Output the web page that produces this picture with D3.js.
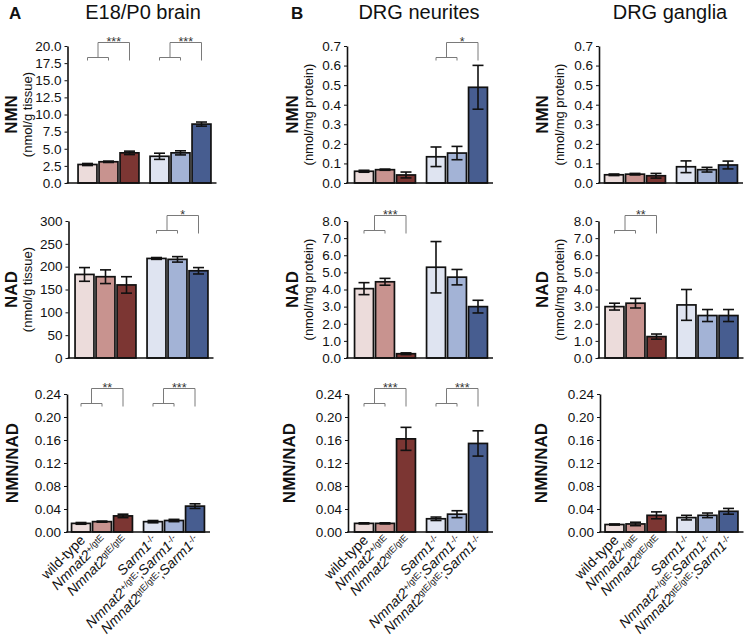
<!DOCTYPE html>
<html>
<head>
<meta charset="utf-8">
<script src="https://cdn.jsdelivr.net/npm/d3@7"></script>
<style>
  html, body { margin: 0; padding: 0; background: #fff; }
  svg { display: block; font-family: "Liberation Sans", Arial, sans-serif; }
</style>
</head>
<body>
<svg id="chart" width="745" height="639"></svg>
<script>
// ---------- DATA ----------
const categories = ["wt", "het", "hom", "sarm", "hetSarm", "homSarm"];
const groups = ["control", "sarm1KO"];
const categoryLabels = [
  [{t: "wild-type"}],
  [{t: "Nmnat2", i: true}, {t: "+/gtE", sup: true}],
  [{t: "Nmnat2", i: true}, {t: "gtE/gtE", sup: true}],
  [{t: "Sarm1", i: true}, {t: "-/-", sup: true}],
  [{t: "Nmnat2", i: true}, {t: "+/gtE", sup: true}, {t: ";"}, {t: "Sarm1", i: true}, {t: "-/-", sup: true}],
  [{t: "Nmnat2", i: true}, {t: "gtE/gtE", sup: true}, {t: ";"}, {t: "Sarm1", i: true}, {t: "-/-", sup: true}]
];
const barColors = ["#ecdcdb", "#c8938f", "#7c3633", "#dfe4f1", "#a3b3d6", "#475d90"];

const columnTitles = ["E18/P0 brain", "DRG neurites", "DRG ganglia"];
const panelLetters = ["A", "B", ""];
const rowLabels = ["NMN", "NAD", "NMN/NAD"];
const unitLabels = [
  ["(nmol/g tissue)", "(nmol/mg protein)", "(nmol/mg protein)"],
  ["(nmol/g tissue)", "(nmol/mg protein)", "(nmol/mg protein)"],
  ["", "", ""]
];

// E18/P0 brain
const brainNMN      = [2.7, 3.1, 4.4, 3.9, 4.4, 8.6];
const brainNMNErr   = [0.15, 0.1, 0.25, 0.45, 0.3, 0.3];
const brainNAD      = [183, 178, 160, 218, 216, 191];
const brainNADErr   = [15, 15, 18, 2, 6, 7];
const brainRatio    = [0.015, 0.018, 0.028, 0.018, 0.020, 0.045];
const brainRatioErr = [0.0015, 0.001, 0.003, 0.002, 0.002, 0.004];
// DRG neurites
const neuritesNMN      = [0.060, 0.068, 0.041, 0.134, 0.153, 0.489];
const neuritesNMNErr   = [0.005, 0.003, 0.015, 0.050, 0.034, 0.112];
const neuritesNAD      = [4.05, 4.45, 0.25, 5.3, 4.72, 3.0];
const neuritesNADErr   = [0.35, 0.2, 0.05, 1.5, 0.45, 0.37];
const neuritesRatio    = [0.015, 0.015, 0.162, 0.023, 0.031, 0.154];
const neuritesRatioErr = [0.001, 0.001, 0.020, 0.003, 0.006, 0.022];
// DRG ganglia
const gangliaNMN      = [0.042, 0.045, 0.037, 0.083, 0.068, 0.092];
const gangliaNMNErr   = [0.004, 0.004, 0.012, 0.030, 0.012, 0.020];
const gangliaNAD      = [3.0, 3.2, 1.25, 3.1, 2.48, 2.48];
const gangliaNADErr   = [0.2, 0.28, 0.15, 0.9, 0.35, 0.35];
const gangliaRatio    = [0.013, 0.014, 0.029, 0.025, 0.029, 0.036];
const gangliaRatioErr = [0.001, 0.003, 0.006, 0.004, 0.004, 0.005];

// tick labels
const ticksBrainNMN = [0, 2.5, 5, 7.5, 10, 12.5, 15, 17.5, 20];
const ticksBrainNAD = [0, 50, 100, 150, 200, 250, 300];
const ticksRatio    = [0, 0.04, 0.08, 0.12, 0.16, 0.20, 0.24];
const ticksDrgNMN   = [0, 0.1, 0.2, 0.3, 0.4, 0.5, 0.6, 0.7];
const ticksDrgNAD   = [0, 1, 2, 3, 4, 5, 6, 7, 8];

// significance: first two bars of a group vs the third bar
const significance = [
  {col: 0, row: 0, group: 0, label: "***"}, {col: 0, row: 0, group: 1, label: "***"},
  {col: 0, row: 1, group: 1, label: "*"},
  {col: 0, row: 2, group: 0, label: "**"},  {col: 0, row: 2, group: 1, label: "***"},
  {col: 1, row: 0, group: 1, label: "*"},
  {col: 1, row: 1, group: 0, label: "***"},
  {col: 1, row: 2, group: 0, label: "***"}, {col: 1, row: 2, group: 1, label: "***"},
  {col: 2, row: 1, group: 0, label: "**"}
];

const panels = [
  [ {v: brainNMN, e: brainNMNErr, t: ticksBrainNMN, f: ".1f"},
    {v: neuritesNMN, e: neuritesNMNErr, t: ticksDrgNMN, f: ".1f"},
    {v: gangliaNMN, e: gangliaNMNErr, t: ticksDrgNMN, f: ".1f"} ],
  [ {v: brainNAD, e: brainNADErr, t: ticksBrainNAD, f: "d"},
    {v: neuritesNAD, e: neuritesNADErr, t: ticksDrgNAD, f: ".1f"},
    {v: gangliaNAD, e: gangliaNADErr, t: ticksDrgNAD, f: ".1f"} ],
  [ {v: brainRatio, e: brainRatioErr, t: ticksRatio, f: ".2f"},
    {v: neuritesRatio, e: neuritesRatioErr, t: ticksRatio, f: ".2f"},
    {v: gangliaRatio, e: gangliaRatioErr, t: ticksRatio, f: ".2f"} ]
];

// ---------- LAYOUT ----------
const rowTop    = [46, 221, 394];
const rowBottom = [183, 358, 532];
const axisX = [[67.5, 68.5, 67], [347, 347, 348], [599, 598.5, 600]];
const firstCenter = [[87.5, 84.5, 81], [364, 364, 364], [614, 614.5, 614.5]];
const labelX = [[11, 292, 542], [11, 292, 542], [12, 289, 541]];
const unitX = [27, 308, 559];
const titleX = [143, 419, 670];
const letterX = [9, 291, 0];

const svg = d3.select("#chart");

for (let r = 0; r < 3; r++) {
  for (let c = 0; c < 3; c++) {
    const p = panels[r][c];
    const ax = axisX[c][r];
    const gStart = firstCenter[c][r] - 10.5;
    const xGroup = d3.scaleBand().domain(groups).range([gStart, gStart + 135]).paddingInner(0.125).paddingOuter(0);
    const xInner = d3.scaleBand().domain([0, 1, 2]).range([0, xGroup.bandwidth()]).paddingInner(0.1).paddingOuter(0.05);
    const xOf = i => xGroup(groups[Math.floor(i / 3)]) + xInner(i % 3);
    const cx = i => xOf(i) + xInner.bandwidth() / 2;
    const y = d3.scaleLinear().domain([0, p.t[p.t.length - 1]]).range([rowBottom[r], rowTop[r]]);

    const g = svg.append("g");

    // bars
    g.selectAll("rect.bar").data(categories).enter().append("rect")
      .attr("x", (d, i) => xOf(i))
      .attr("width", xInner.bandwidth())
      .attr("y", (d, i) => y(p.v[i]))
      .attr("height", (d, i) => y(0) - y(p.v[i]))
      .attr("fill", (d, i) => barColors[i])
      .attr("stroke", "#111")
      .attr("stroke-width", 1.7);

    // error bars
    const eg = g.selectAll("g.err").data(categories).enter().append("g")
      .attr("stroke", "#111").attr("stroke-width", 1.6);
    eg.append("line")
      .attr("x1", (d, i) => cx(i)).attr("x2", (d, i) => cx(i))
      .attr("y1", (d, i) => y(p.v[i] - p.e[i])).attr("y2", (d, i) => y(p.v[i] + p.e[i]));
    eg.append("line")
      .attr("x1", (d, i) => cx(i) - 5.5).attr("x2", (d, i) => cx(i) + 5.5)
      .attr("y1", (d, i) => y(p.v[i] + p.e[i])).attr("y2", (d, i) => y(p.v[i] + p.e[i]));
    eg.append("line")
      .attr("x1", (d, i) => cx(i) - 5.5).attr("x2", (d, i) => cx(i) + 5.5)
      .attr("y1", (d, i) => y(p.v[i] - p.e[i])).attr("y2", (d, i) => y(p.v[i] - p.e[i]));

    // y axis
    const yAxis = d3.axisLeft(y).tickValues(p.t).tickFormat(d3.format(p.f)).tickSize(3).tickSizeOuter(0);
    const ag = g.append("g").attr("transform", `translate(${ax},0)`).call(yAxis);
    ag.select(".domain").attr("stroke", "#111").attr("stroke-width", 1.6);
    ag.selectAll(".tick line").attr("stroke", "#111").attr("stroke-width", 1);
    ag.selectAll(".tick text").attr("font-size", 13.5).attr("fill", "#111")
      .attr("font-family", "'Liberation Sans', Arial, sans-serif");

    // x axis baseline
    g.append("line")
      .attr("x1", ax - 0.8).attr("x2", cx(5) + 15)
      .attr("y1", y(0)).attr("y2", y(0))
      .attr("stroke", "#111").attr("stroke-width", 1.7);

    // row labels
    const ly = (rowTop[r] + rowBottom[r]) / 2;
    g.append("text")
      .attr("transform", `translate(${labelX[r][c]},${ly}) rotate(-90)`)
      .attr("text-anchor", "middle").attr("dominant-baseline", "central")
      .attr("font-weight", "bold").attr("font-size", 17).attr("fill", "#111")
      .text(rowLabels[r]);
    if (unitLabels[r][c]) {
      g.append("text")
        .attr("transform", `translate(${unitX[c]},${ly}) rotate(-90)`)
        .attr("text-anchor", "middle").attr("dominant-baseline", "central")
        .attr("font-size", 13).attr("fill", "#111")
        .text(unitLabels[r][c]);
    }

    // significance brackets
    significance.filter(s => s.row === r && s.col === c).forEach(s => {
      const a = cx(s.group * 3), b = cx(s.group * 3 + 1), t = cx(s.group * 3 + 2);
      const mid = (a + b) / 2;
      const y1 = rowTop[r] + (r === 0 ? 11.5 : 9.5);
      const y2 = rowTop[r] - (r === 0 ? 3.5 : 5.5);
      const path = d3.path();
      path.moveTo(a, y1 + 3); path.lineTo(a, y1); path.lineTo(b, y1); path.lineTo(b, y1 + 3);
      path.moveTo(mid, y1); path.lineTo(mid, y2); path.lineTo(t, y2); path.lineTo(t, y1 + 3);
      g.append("path").attr("d", path.toString()).attr("fill", "none")
        .attr("stroke", "#7a7a7a").attr("stroke-width", 1);
      g.append("text").attr("x", (mid + t) / 2).attr("y", y2 + 3)
        .attr("text-anchor", "middle").attr("font-size", 12.5).attr("fill", "#333")
        .text(s.label);
    });

    // x tick labels on bottom row
    if (r === 2) {
      categoryLabels.forEach((parts, i) => {
        const tx = g.append("text")
          .attr("transform", `translate(${cx(i) + 5},${y(0) + 9}) rotate(-45)`)
          .attr("text-anchor", "end").attr("font-size", 14).attr("fill", "#111");
        parts.forEach(pt => {
          const ts = tx.append("tspan").text(pt.t);
          if (pt.i) ts.attr("font-style", "italic");
          if (pt.sup) ts.attr("font-size", 9).attr("baseline-shift", "45%");
        });
      });
    }
  }
}

// column titles and panel letters
columnTitles.forEach((t, c) => {
  svg.append("text").attr("x", titleX[c]).attr("y", 19)
    .attr("text-anchor", "middle").attr("font-size", 20).attr("fill", "#111").text(t);
  if (panelLetters[c]) {
    svg.append("text").attr("x", letterX[c]).attr("y", 19)
      .attr("font-size", 17).attr("font-weight", "bold").attr("fill", "#111").text(panelLetters[c]);
  }
});
</script>
</body>
</html>
